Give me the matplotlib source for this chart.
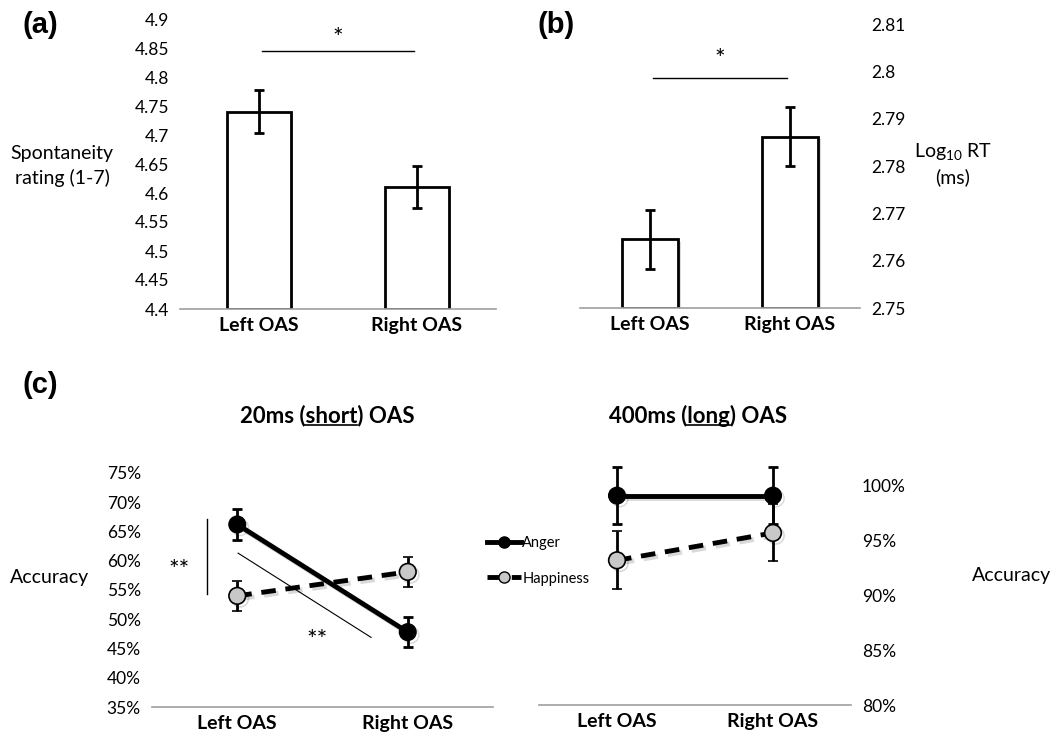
import numpy as np
import matplotlib
matplotlib.use("Agg")
import matplotlib.pyplot as plt
import matplotlib.patheffects as pe
from matplotlib.lines import Line2D

plt.rcParams['font.family'] = ['Lato', 'DejaVu Sans']
plt.rcParams['mathtext.fontset'] = 'custom'
plt.rcParams['mathtext.rm'] = 'Lato'

# data
conditions = ["Left OAS", "Right OAS"]
spont_mean = [4.74, 4.61]
spont_err = [0.037, 0.036]
rt_mean = [2.7645, 2.7862]
rt_err = [0.0062, 0.0063]

short_anger = [66.2, 47.8]
short_anger_err = [2.6, 2.6]
short_happy = [54.0, 58.1]
short_happy_err = [2.6, 2.6]
long_anger = [99.1, 99.1]
long_anger_err = [2.6, 2.6]
long_happy = [93.2, 95.7]
long_happy_err = [2.65, 2.6]

W, H = 1051, 735
fig = plt.figure(figsize=(W / 100, H / 100), dpi=100)

shadow = [pe.SimpleLineShadow(offset=(2, -2), alpha=0.15, rho=0.5), pe.Normal()]


def px_axes(x0, x1, ytop, ybot):
    return fig.add_axes([x0 / W, 1 - ybot / H, (x1 - x0) / W, (ybot - ytop) / H])


def style(ax, side="left"):
    for s in ["top", "right", "left"]:
        ax.spines[s].set_visible(False)
    ax.spines["bottom"].set_color("#a0a0a0")
    ax.spines["bottom"].set_linewidth(1.2)
    ax.tick_params(axis="both", length=0, labelsize=12.5, pad=8)
    ax.tick_params(axis="x", pad=6)
    ax.set_xlim(-0.5, 1.5)
    ax.set_xticks([0, 1])
    ax.set_xticklabels(conditions, fontweight="bold", fontsize=14)
    if side == "right":
        ax.yaxis.tick_right()
    ax.patch.set_alpha(0)


def line_series(ax, y, err, dashed):
    kw = dict(color="black", lw=3.5, marker="o", ms=12, mec="black",
              ecolor="black", elinewidth=2, capsize=3.5, capthick=2,
              clip_on=False, zorder=3)
    if dashed:
        kw.update(ls=(0, (3, 2)), mfc="#c8c8c8", mew=1.2)
    else:
        kw.update(mfc="black")
    cont = ax.errorbar(x, y, yerr=err, **kw)
    cont.lines[0].set_path_effects(shadow)


x = np.arange(2)

# (a) spontaneity
ax_a = px_axes(180, 496, 19, 309)
style(ax_a)
bars = ax_a.bar(x, np.array(spont_mean) - 4.4, bottom=4.4, width=0.4,
                color="white", edgecolor="black", linewidth=2)
for b in bars:
    b.set_path_effects([pe.SimplePatchShadow(offset=(2, -2), alpha=0.2),
                        pe.Normal()])
ax_a.errorbar(x, spont_mean, yerr=spont_err, fmt="none", ecolor="black",
              elinewidth=2, capsize=3.5, capthick=2)
ax_a.set_ylim(4.4, 4.9)
ax_a.set_yticks(np.arange(4.4, 4.91, 0.05))
ax_a.set_yticklabels(["4.4", "4.45", "4.5", "4.55", "4.6", "4.65", "4.7",
                      "4.75", "4.8", "4.85", "4.9"])
ax_a.plot([0.02, 0.98], [4.844, 4.844], color="black", lw=1)
ax_a.text(0.5, 4.866, "*", ha="center", va="center", fontsize=18)

# (b) reaction time
ax_b = px_axes(580, 860, 24, 308)
style(ax_b, "right")
bars = ax_b.bar(x, np.array(rt_mean) - 2.75, bottom=2.75, width=0.4,
                color="white", edgecolor="black", linewidth=2)
for b in bars:
    b.set_path_effects([pe.SimplePatchShadow(offset=(2, -2), alpha=0.2),
                        pe.Normal()])
ax_b.errorbar(x, rt_mean, yerr=rt_err, fmt="none", ecolor="black",
              elinewidth=2, capsize=3.5, capthick=2)
ax_b.set_ylim(2.75, 2.81)
ax_b.set_yticks(np.arange(2.75, 2.8101, 0.01))
ax_b.set_yticklabels(["2.75", "2.76", "2.77", "2.78", "2.79", "2.8", "2.81"])
ax_b.plot([0.02, 0.98], [2.7985, 2.7985], color="black", lw=1)
ax_b.text(0.5, 2.8025, "*", ha="center", va="center", fontsize=18)

# (c) short OAS
ax_c1 = px_axes(152, 493, 473, 707)
style(ax_c1)
line_series(ax_c1, short_anger, short_anger_err, False)
line_series(ax_c1, short_happy, short_happy_err, True)
ax_c1.set_ylim(35, 75)
ax_c1.set_yticks(np.arange(35, 76, 5))
ax_c1.set_yticklabels([f"{v}%" for v in range(35, 76, 5)])
ax_c1.plot([-0.18, -0.18], [54.3, 67.2], color="black", lw=1, clip_on=False)
ax_c1.text(-0.34, 58.4, "**", ha="center", va="center", fontsize=18)
ax_c1.plot([0.005, 0.785], [61.3, 46.9], color="black", lw=0.8)
ax_c1.text(0.47, 46.4, "**", ha="center", va="center", fontsize=18)

# (c) long OAS
ax_c2 = px_axes(539, 851, 420, 705)
style(ax_c2, "right")
line_series(ax_c2, long_anger, long_anger_err, False)
line_series(ax_c2, long_happy, long_happy_err, True)
ax_c2.set_ylim(80, 106)
ax_c2.set_yticks(np.arange(80, 101, 5))
ax_c2.set_yticklabels([f"{v}%" for v in range(80, 101, 5)])

# legend between the two line charts
handles = [
    Line2D([], [], color="black", lw=3.5, marker="o", ms=8, mfc="black"),
    Line2D([], [], color="black", lw=3.5, ls=(0, (3, 2)), marker="o", ms=8,
           mfc="#c8c8c8", mec="black"),
]
fig.legend(handles, ["Anger", "Happiness"], loc="center left",
           bbox_to_anchor=(474 / W, 1 - 561 / H), frameon=False, fontsize=10.5,
           handlelength=2.3, handletextpad=0.1, labelspacing=1.45)

# axis labels and panel letters
fig.text(62 / W, 1 - 166 / H, "Spontaneity\nrating (1-7)", ha="center",
         va="center", fontsize=14, linespacing=1.4)
fig.text(953 / W, 1 - 164 / H, "Log$_{10}$ RT\n(ms)", ha="center",
         va="center", fontsize=14, linespacing=1.4)
fig.text(50 / W, 1 - 577 / H, "Accuracy", ha="center", va="center",
         fontsize=14)
fig.text(1011 / W, 1 - 575 / H, "Accuracy", ha="center", va="center",
         fontsize=14)
for lbl, xp, yp in [("(a)", 40, 25), ("(b)", 556, 25), ("(c)", 40, 385)]:
    fig.text(xp / W, 1 - yp / H, lbl, ha="center", va="center", fontsize=21,
             fontweight="bold", family=["Liberation Sans", "DejaVu Sans"])


# titles with the middle word underlined
def underlined_title(xc, yc, pre, word, post):
    full = pre + word + post
    t = fig.text(xc / W, 1 - yc / H, full, ha="center", va="center",
                 fontsize=16, fontweight="bold")
    r = fig.canvas.get_renderer()
    bb = t.get_window_extent(r)
    parts = []
    for s in [pre, pre + word]:
        tmp = fig.text(0, 0, s, fontsize=16, fontweight="bold")
        parts.append(tmp.get_window_extent(r).width)
        tmp.remove()
    x0 = bb.x0 + parts[0]
    x1 = bb.x0 + parts[1]
    yl = bb.y0 + 2
    fig.add_artist(Line2D([x0 / W, x1 / W], [yl / H, yl / H], color="black",
                          lw=1.2, transform=fig.transFigure))


underlined_title(327, 416, "20ms (", "short", ") OAS")
underlined_title(698, 416, "400ms (", "long", ") OAS")

fig.savefig("out.png", dpi=100)
